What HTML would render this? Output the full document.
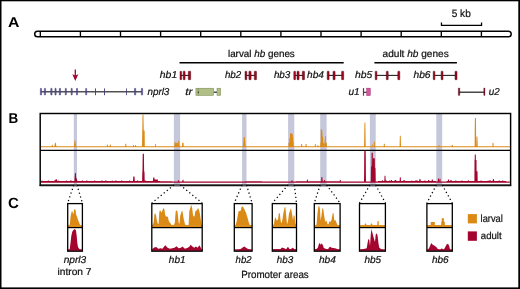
<!DOCTYPE html>
<html><head><meta charset="utf-8"><style>
html,body{margin:0;padding:0;background:#fff;}
svg{display:block;will-change:transform;}
text{font-family:"Liberation Sans",sans-serif;}
</style></head><body>
<svg width="520" height="289" viewBox="0 0 520 289">
<rect width="520" height="289" fill="#fff"/>
<rect x="0" y="0" width="520" height="1.3" fill="#000"/>
<rect x="0" y="0" width="1.5" height="289" fill="#000"/>
<rect x="518.3" y="0" width="1.7" height="289" fill="#000"/>
<rect x="0" y="287.4" width="520" height="1.6" fill="#000"/>
<text x="7.95" y="27" font-family="Liberation Sans, sans-serif" font-size="14.2" font-style="normal" font-weight="bold" fill="#000" textLength="11.42" lengthAdjust="spacingAndGlyphs" text-rendering="geometricPrecision">A</text>
<text x="8.48" y="123" font-family="Liberation Sans, sans-serif" font-size="14.2" font-style="normal" font-weight="bold" fill="#000" textLength="9.70" lengthAdjust="spacingAndGlyphs" text-rendering="geometricPrecision">B</text>
<text x="8.11" y="208" font-family="Liberation Sans, sans-serif" font-size="14.8" font-style="normal" font-weight="bold" fill="#000" textLength="10.87" lengthAdjust="spacingAndGlyphs" text-rendering="geometricPrecision">C</text>
<rect x="34.7" y="31.2" width="476.5" height="5.6" rx="2.8" ry="2.8" fill="#fff" stroke="#000" stroke-width="1.45"/>
<line x1="40.30" y1="31.2" x2="40.30" y2="36.8" stroke="#000" stroke-width="1.35"/>
<line x1="80.40" y1="31.2" x2="80.40" y2="36.8" stroke="#000" stroke-width="1.35"/>
<line x1="120.50" y1="31.2" x2="120.50" y2="36.8" stroke="#000" stroke-width="1.35"/>
<line x1="160.60" y1="31.2" x2="160.60" y2="36.8" stroke="#000" stroke-width="1.35"/>
<line x1="200.70" y1="31.2" x2="200.70" y2="36.8" stroke="#000" stroke-width="1.35"/>
<line x1="240.80" y1="31.2" x2="240.80" y2="36.8" stroke="#000" stroke-width="1.35"/>
<line x1="280.90" y1="31.2" x2="280.90" y2="36.8" stroke="#000" stroke-width="1.35"/>
<line x1="321.00" y1="31.2" x2="321.00" y2="36.8" stroke="#000" stroke-width="1.35"/>
<line x1="361.10" y1="31.2" x2="361.10" y2="36.8" stroke="#000" stroke-width="1.35"/>
<line x1="401.20" y1="31.2" x2="401.20" y2="36.8" stroke="#000" stroke-width="1.35"/>
<line x1="441.30" y1="31.2" x2="441.30" y2="36.8" stroke="#000" stroke-width="1.35"/>
<line x1="481.40" y1="31.2" x2="481.40" y2="36.8" stroke="#000" stroke-width="1.35"/>
<path d="M441.45 22.4 V25.3 H481.55 V22.4" fill="none" stroke="#000" stroke-width="1.25"/>
<text x="451.72" y="17" font-family="Liberation Sans, sans-serif" font-size="10.7" font-style="normal" font-weight="normal" fill="#111" stroke="#111" stroke-width="0.22" textLength="19.02" lengthAdjust="spacingAndGlyphs" text-rendering="geometricPrecision">5 kb</text>
<line x1="179.5" y1="62.7" x2="343.7" y2="62.7" stroke="#000" stroke-width="1.4"/>
<line x1="374.4" y1="62.7" x2="456.9" y2="62.7" stroke="#000" stroke-width="1.4"/>
<text x="227.94" y="57" font-family="Liberation Sans, sans-serif" font-size="10" font-style="normal" font-weight="normal" fill="#111" stroke="#111" stroke-width="0.22" textLength="66.87" lengthAdjust="spacingAndGlyphs" text-rendering="geometricPrecision">larval <tspan font-style="italic">hb</tspan> genes</text>
<text x="382.58" y="57" font-family="Liberation Sans, sans-serif" font-size="10" font-style="normal" font-weight="normal" fill="#111" stroke="#111" stroke-width="0.22" textLength="66.10" lengthAdjust="spacingAndGlyphs" text-rendering="geometricPrecision">adult <tspan font-style="italic">hb</tspan> genes</text>
<line x1="180.5" y1="75.4" x2="190.2" y2="75.4" stroke="#222" stroke-width="1.1"/>
<rect x="180.0" y="71.2" width="1.60" height="8.50" rx="0.5" fill="#a8041f" stroke="#3c0810" stroke-width="0.45"/>
<rect x="183.2" y="71.2" width="1.90" height="8.50" rx="0.5" fill="#a8041f" stroke="#3c0810" stroke-width="0.45"/>
<rect x="188.3" y="71.2" width="2.40" height="8.50" rx="0.5" fill="#a8041f" stroke="#3c0810" stroke-width="0.45"/>
<line x1="245.5" y1="75.4" x2="256.0" y2="75.4" stroke="#222" stroke-width="1.1"/>
<rect x="245.0" y="71.2" width="1.80" height="8.50" rx="0.5" fill="#a8041f" stroke="#3c0810" stroke-width="0.45"/>
<rect x="248.9" y="71.2" width="2.20" height="8.50" rx="0.5" fill="#a8041f" stroke="#3c0810" stroke-width="0.45"/>
<rect x="254.3" y="71.2" width="2.20" height="8.50" rx="0.5" fill="#a8041f" stroke="#3c0810" stroke-width="0.45"/>
<line x1="294.3" y1="75.4" x2="304.0" y2="75.4" stroke="#222" stroke-width="1.1"/>
<rect x="293.8" y="71.2" width="1.70" height="8.50" rx="0.5" fill="#a8041f" stroke="#3c0810" stroke-width="0.45"/>
<rect x="297.0" y="71.2" width="2.10" height="8.50" rx="0.5" fill="#a8041f" stroke="#3c0810" stroke-width="0.45"/>
<rect x="302.3" y="71.2" width="2.20" height="8.50" rx="0.5" fill="#a8041f" stroke="#3c0810" stroke-width="0.45"/>
<line x1="327.7" y1="75.4" x2="343.2" y2="75.4" stroke="#222" stroke-width="1.1"/>
<rect x="327.2" y="71.2" width="1.90" height="8.50" rx="0.5" fill="#a8041f" stroke="#3c0810" stroke-width="0.45"/>
<rect x="333.0" y="71.2" width="2.10" height="8.50" rx="0.5" fill="#a8041f" stroke="#3c0810" stroke-width="0.45"/>
<rect x="341.6" y="71.2" width="2.10" height="8.50" rx="0.5" fill="#a8041f" stroke="#3c0810" stroke-width="0.45"/>
<line x1="375.7" y1="75.4" x2="399.3" y2="75.4" stroke="#222" stroke-width="1.1"/>
<rect x="375.2" y="71.2" width="1.70" height="8.50" rx="0.5" fill="#a8041f" stroke="#3c0810" stroke-width="0.45"/>
<rect x="386.3" y="71.2" width="1.90" height="8.50" rx="0.5" fill="#a8041f" stroke="#3c0810" stroke-width="0.45"/>
<rect x="397.8" y="71.2" width="2.00" height="8.50" rx="0.5" fill="#a8041f" stroke="#3c0810" stroke-width="0.45"/>
<line x1="433.7" y1="75.4" x2="456.5" y2="75.4" stroke="#222" stroke-width="1.1"/>
<rect x="433.2" y="71.2" width="1.70" height="8.50" rx="0.5" fill="#a8041f" stroke="#3c0810" stroke-width="0.45"/>
<rect x="441.1" y="71.2" width="1.90" height="8.50" rx="0.5" fill="#a8041f" stroke="#3c0810" stroke-width="0.45"/>
<rect x="455.0" y="71.2" width="2.00" height="8.50" rx="0.5" fill="#a8041f" stroke="#3c0810" stroke-width="0.45"/>
<text x="159.87" y="78" font-family="Liberation Sans, sans-serif" font-size="10" font-style="italic" font-weight="normal" fill="#111" stroke="#111" stroke-width="0.22" textLength="17.30" lengthAdjust="spacingAndGlyphs" text-rendering="geometricPrecision">hb1</text>
<text x="224.95" y="78" font-family="Liberation Sans, sans-serif" font-size="10" font-style="italic" font-weight="normal" fill="#111" stroke="#111" stroke-width="0.22" textLength="16.31" lengthAdjust="spacingAndGlyphs" text-rendering="geometricPrecision">hb2</text>
<text x="273.90" y="78" font-family="Liberation Sans, sans-serif" font-size="10" font-style="italic" font-weight="normal" fill="#111" stroke="#111" stroke-width="0.22" textLength="16.42" lengthAdjust="spacingAndGlyphs" text-rendering="geometricPrecision">hb3</text>
<text x="307.12" y="78" font-family="Liberation Sans, sans-serif" font-size="10" font-style="italic" font-weight="normal" fill="#111" stroke="#111" stroke-width="0.22" textLength="16.86" lengthAdjust="spacingAndGlyphs" text-rendering="geometricPrecision">hb4</text>
<text x="354.96" y="78" font-family="Liberation Sans, sans-serif" font-size="10" font-style="italic" font-weight="normal" fill="#111" stroke="#111" stroke-width="0.22" textLength="17.31" lengthAdjust="spacingAndGlyphs" text-rendering="geometricPrecision">hb5</text>
<text x="413.48" y="78" font-family="Liberation Sans, sans-serif" font-size="10" font-style="italic" font-weight="normal" fill="#111" stroke="#111" stroke-width="0.22" textLength="17.11" lengthAdjust="spacingAndGlyphs" text-rendering="geometricPrecision">hb6</text>
<text x="147.44" y="95" font-family="Liberation Sans, sans-serif" font-size="10" font-style="italic" font-weight="normal" fill="#111" stroke="#111" stroke-width="0.22" textLength="21.89" lengthAdjust="spacingAndGlyphs" text-rendering="geometricPrecision">nprl3</text>
<text x="185.23" y="95" font-family="Liberation Sans, sans-serif" font-size="10" font-style="italic" font-weight="normal" fill="#111" stroke="#111" stroke-width="0.22" textLength="7.21" lengthAdjust="spacingAndGlyphs" text-rendering="geometricPrecision">tr</text>
<text x="348.55" y="95" font-family="Liberation Sans, sans-serif" font-size="10" font-style="italic" font-weight="normal" fill="#111" stroke="#111" stroke-width="0.22" textLength="11.14" lengthAdjust="spacingAndGlyphs" text-rendering="geometricPrecision">u1</text>
<text x="488.82" y="95" font-family="Liberation Sans, sans-serif" font-size="10" font-style="italic" font-weight="normal" fill="#111" stroke="#111" stroke-width="0.22" textLength="10.86" lengthAdjust="spacingAndGlyphs" text-rendering="geometricPrecision">u2</text>
<line x1="41" y1="91.8" x2="142" y2="91.8" stroke="#525252" stroke-width="1.6"/>
<rect x="40.35" y="88.3" width="1.20" height="6.8" rx="0.5" fill="#6458aa" stroke="#342e6a" stroke-width="0.45"/>
<rect x="44.35" y="88.3" width="1.20" height="6.8" rx="0.5" fill="#6458aa" stroke="#342e6a" stroke-width="0.45"/>
<rect x="50.75" y="88.3" width="1.30" height="6.8" rx="0.5" fill="#6458aa" stroke="#342e6a" stroke-width="0.45"/>
<rect x="54.95" y="88.3" width="1.20" height="6.8" rx="0.5" fill="#6458aa" stroke="#342e6a" stroke-width="0.45"/>
<rect x="59.25" y="88.3" width="1.30" height="6.8" rx="0.5" fill="#6458aa" stroke="#342e6a" stroke-width="0.45"/>
<rect x="65.25" y="88.3" width="1.10" height="6.8" rx="0.5" fill="#6458aa" stroke="#342e6a" stroke-width="0.45"/>
<rect x="71.15" y="88.3" width="1.10" height="6.8" rx="0.5" fill="#6458aa" stroke="#342e6a" stroke-width="0.45"/>
<rect x="76.45" y="88.3" width="1.10" height="6.8" rx="0.5" fill="#6458aa" stroke="#342e6a" stroke-width="0.45"/>
<rect x="85.65" y="88.3" width="1.00" height="6.8" rx="0.5" fill="#6458aa" stroke="#342e6a" stroke-width="0.45"/>
<rect x="95.10" y="88.1" width="0.90" height="7.2" rx="0.4" fill="#3f3b72"/>
<rect x="104.00" y="88.1" width="0.90" height="7.2" rx="0.4" fill="#3f3b72"/>
<rect x="126.10" y="88.1" width="0.80" height="7.2" rx="0.4" fill="#3f3b72"/>
<rect x="134.45" y="88.3" width="1.30" height="6.8" rx="0.5" fill="#6458aa" stroke="#342e6a" stroke-width="0.45"/>
<rect x="141.35" y="88.3" width="1.30" height="6.8" rx="0.5" fill="#6458aa" stroke="#342e6a" stroke-width="0.45"/>
<line x1="75.3" y1="69.6" x2="75.3" y2="76" stroke="#A3052E" stroke-width="1.3"/>
<path d="M72.3 74.2 L75.3 80.9 L78.3 74.2 L75.3 75.6 Z" fill="#A3052E"/>
<line x1="213.6" y1="92.2" x2="217" y2="92.2" stroke="#222" stroke-width="1.2"/>
<rect x="195.9" y="88.2" width="17.7" height="7.2" fill="#afbf86" stroke="#74824f" stroke-width="0.5"/>
<line x1="198.3" y1="88.2" x2="198.3" y2="95.4" stroke="#74824f" stroke-width="0.6"/>
<circle cx="198.3" cy="92.2" r="0.6" fill="#111"/>
<rect x="217" y="88.2" width="3.7" height="7.2" fill="#afbf86" stroke="#74824f" stroke-width="0.5"/>
<line x1="363.5" y1="92.3" x2="366.8" y2="92.3" stroke="#222" stroke-width="1.1"/>
<rect x="362.9" y="88.1" width="1.2" height="7.6" fill="#82245c"/>
<rect x="366.6" y="88.1" width="3.8" height="7.6" fill="#d653a2" stroke="#82245c" stroke-width="0.35"/>
<line x1="459" y1="92.2" x2="484.3" y2="92.2" stroke="#1a1a1a" stroke-width="1.2"/>
<rect x="458.3" y="87.9" width="1.5" height="7.6" rx="0.4" fill="#7e0c26" stroke="#3c0810" stroke-width="0.3"/>
<rect x="483.75" y="87.9" width="1.2" height="7.6" rx="0.4" fill="#7e0c26" stroke="#3c0810" stroke-width="0.3"/>
<rect x="73.8" y="113.5" width="3.20" height="72.90" fill="#c5c7db"/>
<rect x="173.9" y="113.5" width="6.20" height="72.90" fill="#c5c7db"/>
<rect x="242.1" y="113.5" width="4.40" height="72.90" fill="#c5c7db"/>
<rect x="288.1" y="113.5" width="6.20" height="72.90" fill="#c5c7db"/>
<rect x="320.2" y="113.5" width="6.40" height="72.90" fill="#c5c7db"/>
<rect x="369.9" y="113.5" width="5.80" height="72.90" fill="#c5c7db"/>
<rect x="436.3" y="113.5" width="5.90" height="72.90" fill="#c5c7db"/>
<path d="M41.00 147.25 L41.00 146.20 L51.60 146.20 L51.70 146.00 L51.80 145.60 L51.90 145.20 L52.00 144.80 L52.60 144.80 L52.70 145.20 L52.80 145.60 L52.90 146.00 L53.00 146.20 L54.40 146.20 L54.50 145.68 L54.60 145.15 L54.70 144.63 L54.80 144.11 L54.90 143.58 L55.00 143.06 L55.10 142.80 L55.70 142.80 L55.80 143.06 L55.90 143.58 L56.00 144.11 L56.10 144.63 L56.20 145.15 L56.30 145.68 L56.40 146.20 L74.00 146.20 L74.10 145.25 L74.20 144.30 L74.30 143.35 L74.40 142.40 L74.50 141.45 L74.60 140.50 L75.40 140.50 L75.50 141.45 L75.60 142.40 L75.70 143.35 L75.80 144.30 L75.90 145.25 L76.00 146.20 L106.70 146.20 L106.80 145.80 L106.90 145.40 L107.00 145.00 L107.10 144.60 L107.70 144.60 L107.80 145.00 L107.90 145.40 L108.00 145.80 L108.10 146.20 L109.50 146.20 L109.60 145.88 L109.70 145.56 L109.80 145.24 L109.90 144.92 L110.00 144.60 L110.60 144.60 L110.70 144.92 L110.80 145.24 L110.90 145.56 L111.00 145.88 L111.10 146.20 L125.20 146.20 L125.30 144.60 L125.40 143.80 L126.20 143.80 L126.30 144.60 L126.40 146.20 L133.00 146.20 L133.10 145.00 L133.90 145.00 L134.00 146.20 L134.90 146.20 L135.00 145.00 L135.80 145.00 L135.90 146.20 L142.00 146.20 L142.10 140.42 L142.20 134.64 L142.30 128.85 L142.40 123.07 L142.50 117.29 L142.60 114.40 L143.40 114.40 L143.50 117.29 L143.60 123.07 L143.70 128.85 L143.80 130.40 L144.60 130.40 L144.70 135.67 L144.80 146.20 L154.90 146.20 L155.00 144.00 L155.80 144.00 L155.90 146.20 L174.30 146.20 L174.40 144.52 L174.50 142.84 L174.60 142.00 L175.40 142.00 L175.50 142.84 L175.60 144.52 L175.70 144.07 L175.80 143.00 L176.60 143.00 L176.70 144.07 L176.80 143.32 L176.90 142.60 L177.70 142.60 L177.80 143.32 L177.90 144.76 L178.00 146.20 L178.10 144.66 L178.20 143.11 L178.30 141.57 L178.40 140.80 L179.20 140.80 L179.30 141.57 L179.40 143.11 L179.50 144.66 L179.60 146.20 L182.00 146.20 L182.10 144.50 L182.20 142.80 L183.50 142.80 L183.60 144.50 L183.70 146.20 L243.00 146.20 L243.10 145.11 L243.20 144.01 L243.30 142.92 L243.40 141.82 L243.50 140.73 L243.60 139.64 L243.70 138.54 L243.80 137.45 L243.90 136.90 L244.70 136.90 L244.80 137.45 L244.90 138.54 L245.00 139.64 L245.10 140.73 L245.20 141.82 L245.30 142.92 L245.40 144.01 L245.50 145.11 L245.60 146.20 L288.40 146.20 L288.50 142.70 L289.30 142.70 L289.40 138.30 L290.00 138.30 L290.10 133.40 L290.70 133.40 L290.80 133.00 L291.60 133.00 L291.70 133.80 L292.30 133.80 L292.40 134.30 L292.70 134.30 L292.80 137.40 L293.10 137.40 L293.20 141.80 L293.60 141.80 L293.70 146.20 L301.10 146.20 L301.20 144.73 L301.30 144.00 L302.10 144.00 L302.20 144.73 L302.30 146.20 L305.50 146.20 L305.60 144.73 L305.70 144.00 L306.50 144.00 L306.60 144.73 L306.70 146.20 L314.80 146.20 L314.90 144.00 L315.70 144.00 L315.80 146.20 L317.50 146.20 L317.60 145.00 L318.30 145.00 L318.40 146.20 L320.20 146.20 L320.30 142.70 L320.70 142.70 L320.80 129.00 L321.50 129.00 L321.60 130.30 L322.20 130.30 L322.30 132.50 L322.40 132.50 L322.50 136.50 L323.00 136.50 L323.10 142.70 L323.70 142.70 L323.80 143.60 L324.30 143.60 L324.40 146.20 L324.50 146.20 L324.60 139.60 L324.90 139.60 L325.00 136.10 L325.70 136.10 L325.80 142.70 L326.30 142.70 L326.40 143.00 L326.80 143.00 L326.90 146.20 L364.10 146.20 L364.20 139.43 L364.30 132.66 L364.40 125.89 L364.50 122.50 L365.30 122.50 L365.40 125.89 L365.50 132.66 L365.60 139.43 L365.70 146.20 L371.80 146.20 L371.90 144.50 L372.70 144.50 L372.80 146.20 L373.70 146.20 L373.80 143.07 L373.90 141.50 L374.70 141.50 L374.80 143.07 L374.90 146.20 L383.70 146.20 L383.80 144.60 L383.90 143.80 L384.70 143.80 L384.80 144.60 L384.90 146.20 L399.60 146.20 L399.70 142.04 L399.80 137.88 L399.90 135.80 L400.70 135.80 L400.80 137.88 L400.90 142.04 L401.00 146.20 L438.20 146.20 L438.30 145.95 L438.40 145.70 L438.50 145.45 L438.60 145.20 L439.40 145.20 L439.50 145.45 L439.60 145.70 L439.70 145.95 L439.80 146.20 L451.50 146.20 L451.60 145.90 L451.70 145.60 L451.80 145.30 L451.90 145.00 L452.70 145.00 L452.80 145.30 L452.90 145.60 L453.00 145.90 L453.10 146.20 L474.60 146.20 L474.70 134.96 L474.80 123.72 L474.90 118.10 L475.90 118.10 L476.00 123.72 L476.10 134.96 L476.20 146.20 L476.30 146.20 L476.40 142.28 L476.50 138.36 L476.60 136.40 L477.40 136.40 L477.50 138.36 L477.60 142.28 L477.70 146.20 L492.40 146.20 L492.50 143.93 L492.60 142.80 L493.40 142.80 L493.50 143.93 L493.60 146.20 L509.80 146.20 L509.80 147.25 Z" fill="#DB8A16"/>
<path d="M41.00 182.70 L41.00 181.00 L41.40 181.00 L41.50 180.90 L41.60 180.70 L41.70 180.50 L41.80 180.40 L42.20 180.40 L42.30 180.50 L42.40 180.70 L42.50 180.90 L42.60 181.00 L47.60 181.00 L47.70 180.92 L47.80 180.71 L47.90 180.50 L48.00 180.35 L48.40 180.35 L48.50 180.41 L48.60 180.62 L48.70 180.83 L48.80 181.00 L54.10 181.00 L54.20 180.91 L54.30 180.68 L54.40 180.46 L54.50 180.25 L54.90 180.25 L55.00 180.27 L55.10 180.50 L55.20 180.40 L55.30 180.19 L55.40 179.97 L55.50 179.75 L55.60 179.53 L55.70 179.31 L55.80 179.20 L56.60 179.20 L56.70 179.31 L56.80 179.53 L56.90 179.75 L57.00 179.97 L57.10 180.19 L57.20 180.40 L57.30 180.62 L57.40 180.84 L57.50 181.00 L58.00 181.00 L58.10 180.89 L58.20 180.71 L58.30 180.53 L58.40 180.49 L58.80 180.49 L58.90 180.64 L59.00 180.83 L59.10 181.00 L65.70 181.00 L65.80 180.81 L65.90 180.61 L66.00 180.41 L66.10 180.40 L66.50 180.40 L66.60 180.59 L66.70 180.79 L66.80 180.99 L66.90 181.00 L70.30 181.00 L70.40 180.81 L70.50 180.55 L70.60 180.30 L70.70 180.10 L71.10 180.10 L71.20 180.16 L71.30 180.41 L71.40 180.67 L71.50 180.92 L71.60 181.00 L74.40 181.00 L74.50 179.94 L74.60 178.37 L74.70 176.81 L74.80 175.25 L74.90 173.68 L75.00 172.90 L75.80 172.90 L75.90 173.68 L76.00 175.25 L76.10 176.81 L76.20 178.37 L76.30 178.50 L76.80 178.50 L76.90 179.00 L77.00 180.00 L77.10 180.34 L77.20 180.58 L77.30 180.82 L77.40 181.00 L82.00 181.00 L82.10 180.95 L82.20 180.72 L82.30 180.50 L82.40 180.27 L82.50 180.24 L82.90 180.24 L83.00 180.45 L83.10 180.68 L83.20 180.91 L83.30 181.00 L86.30 181.00 L86.40 180.85 L86.50 180.62 L86.60 180.39 L86.70 180.25 L87.10 180.25 L87.20 180.33 L87.30 180.56 L87.40 180.79 L87.50 181.00 L94.10 181.00 L94.20 180.96 L94.30 180.74 L94.40 180.52 L94.50 180.30 L94.60 180.29 L95.00 180.29 L95.10 180.50 L95.20 180.72 L95.30 180.94 L95.40 181.00 L101.30 181.00 L101.40 180.95 L101.50 180.72 L101.60 180.49 L101.70 180.25 L101.80 180.23 L102.20 180.23 L102.30 180.44 L102.40 180.67 L102.50 180.90 L102.60 181.00 L105.10 181.00 L105.20 180.98 L105.30 180.74 L105.40 180.51 L105.50 180.27 L105.60 180.20 L106.00 180.20 L106.10 180.36 L106.20 180.60 L106.30 180.84 L106.40 181.00 L111.60 181.00 L111.70 180.96 L111.80 180.76 L111.90 180.55 L112.00 180.38 L112.40 180.38 L112.50 180.41 L112.60 180.61 L112.70 180.82 L112.80 181.00 L115.20 181.00 L115.30 180.99 L115.40 180.74 L115.50 180.50 L115.60 180.25 L115.70 180.15 L116.10 180.15 L116.20 180.30 L116.30 180.54 L116.40 180.79 L116.50 181.00 L121.10 181.00 L121.20 180.93 L121.30 180.69 L121.40 180.46 L121.50 180.22 L121.60 180.21 L122.00 180.21 L122.10 180.44 L122.20 180.67 L122.30 180.90 L122.40 181.00 L129.00 181.00 L129.10 180.91 L129.20 180.68 L129.30 180.44 L129.40 180.21 L129.80 180.21 L129.90 180.22 L130.00 180.45 L130.10 180.69 L130.20 180.92 L130.30 181.00 L132.90 181.00 L133.00 180.77 L133.10 179.31 L133.20 177.86 L133.30 176.40 L134.50 176.40 L134.60 177.86 L134.70 179.31 L134.80 180.77 L134.90 181.00 L137.10 181.00 L137.20 180.98 L137.30 180.77 L137.40 180.56 L137.50 180.35 L137.60 180.34 L138.00 180.34 L138.10 180.54 L138.20 180.75 L138.30 180.97 L138.40 181.00 L142.10 181.00 L142.20 176.65 L142.30 171.80 L142.40 171.80 L142.50 169.59 L142.60 161.64 L142.70 153.70 L143.90 153.70 L144.00 161.64 L144.10 169.59 L144.20 171.80 L144.50 171.80 L144.60 176.65 L144.70 180.98 L144.80 180.77 L144.90 180.55 L145.00 180.34 L145.10 180.32 L145.50 180.32 L145.60 180.52 L145.70 180.73 L145.80 180.95 L145.90 181.00 L152.80 181.00 L152.90 180.85 L153.00 179.83 L153.10 178.71 L153.20 177.60 L154.40 177.60 L154.50 178.71 L154.60 179.60 L157.70 179.60 L157.80 179.79 L157.90 180.17 L158.00 180.55 L158.10 180.93 L158.20 181.00 L160.00 181.00 L160.10 181.17 L160.20 181.20 L172.00 181.20 L172.10 181.30 L172.20 181.40 L172.30 181.50 L177.80 181.50 L177.90 181.02 L178.00 180.54 L178.10 180.30 L178.90 180.30 L179.00 180.54 L179.10 181.02 L179.20 181.50 L182.30 181.50 L182.40 180.82 L182.50 180.14 L182.60 179.80 L183.40 179.80 L183.50 180.14 L183.60 180.82 L183.70 181.50 L244.70 181.50 L244.80 181.43 L244.90 181.37 L245.00 181.30 L262.00 181.30 L262.10 181.37 L262.20 181.43 L262.30 181.50 L291.30 181.50 L291.40 181.06 L291.50 180.62 L291.60 180.40 L292.40 180.40 L292.50 180.62 L292.60 181.06 L292.70 181.50 L295.70 181.50 L295.80 181.40 L295.90 181.30 L296.00 181.20 L306.80 181.20 L306.90 180.17 L307.00 179.50 L307.80 179.50 L307.90 180.17 L308.00 181.20 L321.10 181.20 L321.20 180.19 L321.30 178.87 L321.40 177.56 L321.50 176.90 L322.30 176.90 L322.40 177.56 L322.50 178.87 L322.60 180.19 L322.70 181.20 L324.00 181.20 L324.10 180.43 L324.20 179.90 L325.00 179.90 L325.10 180.43 L325.20 181.20 L339.70 181.20 L339.80 180.50 L339.90 180.00 L340.70 180.00 L340.80 180.50 L340.90 181.50 L364.00 181.50 L364.10 173.87 L364.20 158.62 L364.30 151.00 L365.70 151.00 L365.80 158.63 L365.90 173.88 L366.00 181.50 L370.80 181.50 L370.90 174.05 L371.00 166.60 L371.50 166.60 L371.60 152.80 L372.80 152.80 L372.90 166.03 L373.00 158.30 L374.80 158.30 L374.90 166.03 L375.00 168.00 L375.40 168.00 L375.50 170.70 L375.60 176.10 L375.70 181.50 L377.70 181.50 L377.80 181.33 L377.90 181.17 L378.00 181.00 L381.70 181.00 L381.80 180.96 L381.90 180.71 L382.00 180.47 L382.10 180.22 L382.20 180.15 L382.60 180.15 L382.70 180.33 L382.80 180.57 L382.90 180.82 L383.00 181.00 L384.30 181.00 L384.40 179.18 L384.50 176.86 L384.60 175.70 L385.40 175.70 L385.50 176.86 L385.60 179.18 L385.70 180.59 L385.80 180.37 L385.90 180.25 L386.30 180.25 L386.40 180.37 L386.50 180.60 L386.60 180.82 L386.70 181.00 L389.20 181.00 L389.30 180.85 L389.40 180.62 L389.50 180.39 L389.60 180.21 L390.00 180.21 L390.10 180.27 L390.20 180.51 L390.30 180.74 L390.40 180.98 L390.50 181.00 L390.90 181.00 L391.00 180.50 L391.10 180.00 L391.90 180.00 L392.00 180.50 L392.10 181.00 L394.30 181.00 L394.40 180.96 L394.50 180.71 L394.60 180.46 L394.70 180.22 L394.80 180.15 L395.20 180.15 L395.30 180.00 L396.10 180.00 L396.20 180.25 L396.30 180.75 L396.40 181.00 L399.60 181.00 L399.70 179.78 L399.80 178.06 L399.90 177.20 L400.70 177.20 L400.80 178.06 L400.90 179.78 L401.00 181.00 L402.80 181.00 L402.90 180.80 L403.00 180.59 L403.10 180.37 L403.20 180.30 L403.60 180.30 L403.70 180.45 L403.80 180.67 L403.90 180.88 L404.00 181.00 L404.10 180.70 L404.20 180.30 L405.00 180.30 L405.10 180.70 L405.20 181.00 L411.30 181.00 L411.40 180.83 L411.50 180.63 L411.60 180.43 L411.70 180.38 L412.10 180.38 L412.20 180.53 L412.30 180.73 L412.40 180.94 L412.50 181.00 L415.10 181.00 L415.20 180.96 L415.30 180.73 L415.40 180.51 L415.50 180.28 L415.60 180.26 L416.00 180.26 L416.10 180.46 L416.20 180.69 L416.30 180.92 L416.40 180.76 L416.50 180.39 L416.60 180.20 L417.40 180.20 L417.50 180.39 L417.60 180.76 L417.70 181.00 L418.80 181.00 L418.90 180.94 L419.00 180.75 L419.10 180.55 L419.20 180.42 L419.30 180.42 L419.40 180.07 L419.50 179.36 L419.60 179.00 L420.40 179.00 L420.50 179.36 L420.60 180.07 L420.70 180.79 L420.80 181.00 L424.30 181.00 L424.40 180.95 L424.50 180.72 L424.60 180.50 L424.70 180.27 L424.80 180.26 L425.20 180.26 L425.30 180.47 L425.40 180.70 L425.50 180.92 L425.60 181.00 L427.90 181.00 L428.00 180.57 L428.10 180.10 L428.90 180.10 L429.00 180.48 L429.40 180.48 L429.50 180.51 L429.60 180.69 L429.70 180.88 L429.80 181.00 L431.50 181.00 L431.60 180.93 L431.70 180.36 L431.80 179.79 L431.90 179.50 L432.70 179.50 L432.80 179.79 L432.90 180.36 L433.00 180.93 L433.10 181.00 L436.00 181.00 L436.10 181.17 L436.20 181.33 L436.30 181.50 L437.70 181.50 L437.80 180.64 L437.90 179.79 L438.00 178.93 L438.10 178.50 L438.90 178.50 L439.00 178.93 L439.10 179.79 L439.20 180.64 L439.30 181.50 L439.40 181.50 L439.50 179.70 L439.60 178.80 L440.40 178.80 L440.50 179.70 L440.60 181.50 L446.70 181.50 L446.80 181.33 L446.90 181.17 L447.00 181.00 L447.80 181.00 L447.90 180.70 L448.00 179.90 L448.10 179.50 L448.90 179.50 L449.00 179.90 L449.10 180.70 L449.20 181.00 L449.80 181.00 L449.90 180.85 L450.00 180.61 L450.10 180.36 L450.20 180.14 L450.60 180.14 L450.70 180.17 L450.80 180.42 L450.90 180.66 L451.00 180.62 L451.10 180.40 L451.90 180.40 L452.00 180.62 L452.10 181.00 L455.20 181.00 L455.30 180.91 L455.40 180.70 L455.50 180.48 L455.60 180.32 L456.00 180.32 L456.10 180.37 L456.20 180.58 L456.30 180.80 L456.40 181.00 L461.30 181.00 L461.40 180.88 L461.50 180.65 L461.60 180.42 L461.70 180.24 L462.10 180.24 L462.20 180.29 L462.30 180.52 L462.40 180.75 L462.50 180.98 L462.60 181.00 L467.80 181.00 L467.90 180.85 L468.00 180.62 L468.10 180.40 L468.20 180.28 L468.60 180.28 L468.70 180.37 L468.80 180.60 L468.90 180.82 L469.00 181.00 L474.40 181.00 L474.50 160.00 L474.70 160.00 L474.80 154.50 L475.80 154.50 L475.90 160.00 L476.50 160.00 L476.60 171.20 L477.50 171.20 L477.60 176.35 L477.70 181.00 L480.40 181.00 L480.50 180.95 L480.60 180.74 L480.70 180.52 L480.80 180.33 L481.20 180.33 L481.30 180.35 L481.40 180.56 L481.50 180.77 L481.60 180.99 L481.70 181.00 L487.50 181.00 L487.60 180.99 L487.70 180.79 L487.80 180.59 L487.90 180.40 L488.30 180.40 L488.40 180.42 L488.50 180.62 L488.60 180.82 L488.70 181.00 L489.30 181.00 L489.40 180.90 L489.50 180.30 L489.60 180.00 L490.40 180.00 L490.50 180.30 L490.60 180.90 L490.70 181.00 L492.50 181.00 L492.60 180.86 L492.70 180.61 L492.80 180.07 L492.90 179.36 L493.00 179.00 L493.80 179.00 L493.90 179.36 L494.00 180.07 L494.10 180.79 L494.20 181.00 L498.60 181.00 L498.70 180.95 L498.80 180.73 L498.90 180.51 L499.00 180.29 L499.10 180.28 L499.50 180.28 L499.60 180.49 L499.70 180.71 L499.80 180.94 L499.90 181.00 L502.20 181.00 L502.30 180.89 L502.40 180.68 L502.50 180.46 L502.60 180.33 L503.00 180.33 L503.10 180.42 L503.20 180.63 L503.30 180.84 L503.40 181.00 L506.00 181.00 L506.10 181.17 L506.20 181.33 L506.30 181.50 L509.80 181.50 L509.80 182.70 Z" fill="#A3052E"/>
<rect x="40.2" y="113.5" width="470.40" height="71.70" fill="none" stroke="#000" stroke-width="1.45"/>
<line x1="40.2" y1="150.4" x2="510.6" y2="150.4" stroke="#000" stroke-width="1.1"/>
<line x1="39.550000000000004" y1="185.4" x2="511.25" y2="185.4" stroke="#151515" stroke-width="1.5"/>
<rect x="73.8" y="184.5" width="3.20" height="1.6" fill="#c5c7db" opacity="0.35"/>
<rect x="173.9" y="184.5" width="6.20" height="1.6" fill="#c5c7db" opacity="0.35"/>
<rect x="242.1" y="184.5" width="4.40" height="1.6" fill="#c5c7db" opacity="0.35"/>
<rect x="288.1" y="184.5" width="6.20" height="1.6" fill="#c5c7db" opacity="0.35"/>
<rect x="320.2" y="184.5" width="6.40" height="1.6" fill="#c5c7db" opacity="0.35"/>
<rect x="369.9" y="184.5" width="5.80" height="1.6" fill="#c5c7db" opacity="0.35"/>
<rect x="436.3" y="184.5" width="5.90" height="1.6" fill="#c5c7db" opacity="0.35"/>
<line x1="73.8" y1="185.0" x2="67.7" y2="203.0" stroke="#000" stroke-width="1.25" stroke-dasharray="1.25 2.7" stroke-dashoffset="0" stroke-linecap="butt"/>
<line x1="77.0" y1="185.0" x2="82.4" y2="203.0" stroke="#000" stroke-width="1.25" stroke-dasharray="1.25 2.7" stroke-dashoffset="0" stroke-linecap="butt"/>
<line x1="173.9" y1="185.0" x2="151.8" y2="203.0" stroke="#000" stroke-width="1.25" stroke-dasharray="1.25 2.7" stroke-dashoffset="0" stroke-linecap="butt"/>
<line x1="180.1" y1="185.0" x2="202.2" y2="203.0" stroke="#000" stroke-width="1.25" stroke-dasharray="1.25 2.7" stroke-dashoffset="0" stroke-linecap="butt"/>
<line x1="242.1" y1="185.0" x2="234.3" y2="203.0" stroke="#000" stroke-width="1.25" stroke-dasharray="1.25 2.7" stroke-dashoffset="0" stroke-linecap="butt"/>
<line x1="246.5" y1="185.0" x2="252.1" y2="203.0" stroke="#000" stroke-width="1.25" stroke-dasharray="1.25 2.7" stroke-dashoffset="0" stroke-linecap="butt"/>
<line x1="288.1" y1="185.0" x2="272.3" y2="203.0" stroke="#000" stroke-width="1.25" stroke-dasharray="1.25 2.7" stroke-dashoffset="0" stroke-linecap="butt"/>
<line x1="294.3" y1="185.0" x2="296.5" y2="203.0" stroke="#000" stroke-width="1.25" stroke-dasharray="1.25 2.7" stroke-dashoffset="0" stroke-linecap="butt"/>
<line x1="320.2" y1="185.0" x2="314.3" y2="203.0" stroke="#000" stroke-width="1.25" stroke-dasharray="1.25 2.7" stroke-dashoffset="0" stroke-linecap="butt"/>
<line x1="326.6" y1="185.0" x2="340.1" y2="203.0" stroke="#000" stroke-width="1.25" stroke-dasharray="1.25 2.7" stroke-dashoffset="0" stroke-linecap="butt"/>
<line x1="369.9" y1="185.0" x2="359.5" y2="203.0" stroke="#000" stroke-width="1.25" stroke-dasharray="1.25 2.7" stroke-dashoffset="0" stroke-linecap="butt"/>
<line x1="375.7" y1="185.0" x2="385.4" y2="203.0" stroke="#000" stroke-width="1.25" stroke-dasharray="1.25 2.7" stroke-dashoffset="0" stroke-linecap="butt"/>
<line x1="436.3" y1="185.0" x2="426.9" y2="203.0" stroke="#000" stroke-width="1.25" stroke-dasharray="1.25 2.7" stroke-dashoffset="0" stroke-linecap="butt"/>
<line x1="442.2" y1="185.0" x2="452.3" y2="203.0" stroke="#000" stroke-width="1.25" stroke-dasharray="1.25 2.7" stroke-dashoffset="0" stroke-linecap="butt"/>
<rect x="67.7" y="225.1" width="14.70" height="1.9" fill="#DB8A16"/>
<rect x="67.7" y="249.3" width="14.70" height="1.6" fill="#A3052E"/>
<path d="M69.60 225.50 L69.60 225.00 L70.00 222.50 L70.60 216.50 L71.30 213.00 L71.60 211.40 L72.60 211.40 L73.00 213.70 L73.60 213.70 L74.00 209.60 L75.50 209.60 L75.80 212.00 L76.10 214.60 L77.00 216.80 L77.90 219.50 L78.80 221.70 L79.70 224.00 L80.20 225.00 L80.20 225.50" fill="#DB8A16"/>
<path d="M69.60 250.30 L69.60 250.00 L70.50 243.00 L71.30 236.00 L72.20 232.00 L73.00 230.50 L73.50 230.00 L74.30 229.60 L74.80 228.80 L75.30 229.40 L76.00 230.50 L76.70 236.00 L77.30 243.00 L78.00 247.00 L79.00 248.50 L80.00 249.80 L80.30 250.00 L80.30 250.30" fill="#A3052E"/>
<rect x="151.8" y="225.1" width="50.40" height="1.9" fill="#DB8A16"/>
<rect x="151.8" y="249.3" width="50.40" height="1.6" fill="#A3052E"/>
<path d="M152.50 225.50 L152.50 225.00 L153.60 222.70 L154.50 213.70 L155.20 213.30 L156.10 215.50 L156.80 220.00 L157.70 223.60 L158.60 224.00 L159.30 211.90 L159.90 210.60 L160.80 211.00 L161.50 212.80 L162.40 210.60 L163.50 207.90 L164.40 209.20 L165.10 214.60 L166.00 216.40 L167.10 216.40 L168.00 216.90 L168.50 220.00 L169.40 222.30 L170.70 223.60 L171.60 225.00 L173.90 225.00 L174.80 222.70 L175.70 211.00 L176.60 210.60 L177.40 211.00 L177.80 214.60 L178.70 222.70 L179.40 224.00 L180.30 215.50 L181.40 211.90 L182.30 210.60 L183.00 214.60 L183.90 220.00 L184.80 223.60 L185.50 225.00 L188.60 225.00 L189.30 211.00 L190.40 207.40 L191.30 204.70 L192.20 208.30 L193.10 216.00 L194.50 216.40 L195.40 211.00 L196.70 210.60 L198.10 207.90 L199.00 210.10 L199.90 213.70 L200.80 220.00 L201.40 223.60 L201.60 225.00 L201.60 225.50" fill="#DB8A16"/>
<path d="M152.40 250.30 L152.40 250.00 L152.60 248.80 L154.30 247.50 L156.10 247.00 L158.40 248.80 L160.70 248.20 L162.40 248.80 L164.20 246.50 L165.30 245.30 L167.60 247.70 L169.90 248.80 L172.20 248.20 L174.50 247.70 L176.60 246.20 L178.60 248.20 L180.90 247.70 L182.40 246.50 L184.90 248.80 L187.80 247.70 L189.50 246.50 L190.70 244.80 L192.40 246.50 L194.20 247.70 L195.90 246.50 L197.60 247.70 L199.30 245.30 L201.10 248.20 L201.60 250.00 L201.60 250.30" fill="#A3052E"/>
<rect x="234.3" y="225.1" width="17.80" height="1.9" fill="#DB8A16"/>
<rect x="234.3" y="249.3" width="17.80" height="1.6" fill="#A3052E"/>
<path d="M235.50 225.50 L235.50 225.50 L236.70 221.30 L237.60 216.30 L238.20 213.00 L238.80 210.90 L240.50 210.90 L241.10 209.20 L241.50 206.80 L243.00 206.50 L243.60 208.00 L244.50 209.20 L245.20 211.30 L246.20 213.00 L246.80 215.40 L247.50 217.50 L248.30 220.80 L249.20 223.70 L250.20 225.50 L250.20 225.50" fill="#DB8A16"/>
<path d="M238.50 250.30 L238.50 250.00 L241.00 248.80 L243.00 247.20 L244.40 246.60 L246.00 247.80 L248.50 249.20 L251.00 250.00 L251.00 250.30" fill="#A3052E"/>
<rect x="272.3" y="225.1" width="24.20" height="1.9" fill="#DB8A16"/>
<rect x="272.3" y="249.3" width="24.20" height="1.6" fill="#A3052E"/>
<path d="M273.00 225.50 L273.00 225.00 L273.90 224.20 L275.00 217.50 L275.80 218.00 L276.80 220.40 L278.00 219.40 L278.80 213.60 L279.80 213.10 L280.70 221.30 L281.60 223.30 L282.60 218.40 L283.50 212.60 L284.50 207.80 L285.30 206.80 L286.00 213.60 L287.00 224.20 L288.00 221.30 L289.00 213.60 L290.30 209.70 L291.00 208.30 L292.00 213.60 L293.00 220.40 L293.60 215.50 L294.50 215.50 L295.30 223.30 L296.00 225.00 L296.00 225.50" fill="#DB8A16"/>
<path d="M273.00 250.30 L273.00 250.00 L273.20 249.30 L280.30 249.30 L281.20 248.20 L282.00 247.50 L283.20 248.00 L284.50 248.30 L285.50 249.30 L286.40 249.00 L287.30 247.50 L287.90 246.90 L288.60 247.60 L289.40 249.00 L291.00 249.20 L291.80 248.30 L292.80 247.70 L293.50 248.20 L294.20 249.30 L295.80 249.30 L296.00 250.00 L296.00 250.30" fill="#A3052E"/>
<rect x="314.3" y="225.1" width="25.80" height="1.9" fill="#DB8A16"/>
<rect x="314.3" y="249.3" width="25.80" height="1.6" fill="#A3052E"/>
<path d="M316.30 225.50 L316.30 225.00 L316.60 224.00 L317.50 213.60 L318.30 206.80 L319.20 205.80 L320.00 209.70 L320.60 220.40 L321.50 215.50 L322.30 208.30 L323.20 208.80 L324.00 214.60 L324.80 219.40 L325.60 221.90 L326.50 220.40 L327.50 224.30 L328.50 224.30 L329.50 220.90 L330.50 221.90 L331.50 219.90 L332.80 213.10 L333.50 213.10 L334.30 220.40 L335.30 219.90 L336.50 222.80 L337.50 225.00 L337.50 225.50" fill="#DB8A16"/>
<path d="M315.00 250.30 L315.00 250.00 L315.00 249.30 L316.90 248.80 L318.00 247.20 L319.00 243.50 L320.00 243.20 L320.80 244.90 L321.40 243.50 L322.20 243.90 L323.00 245.50 L323.80 248.10 L325.00 248.60 L327.00 249.30 L328.00 249.50 L329.00 247.60 L329.50 247.20 L330.30 246.80 L331.50 247.80 L333.50 248.10 L336.00 248.50 L337.50 249.30 L339.30 249.80 L339.50 250.00 L339.50 250.30" fill="#A3052E"/>
<rect x="359.5" y="225.1" width="25.90" height="1.9" fill="#DB8A16"/>
<rect x="359.5" y="249.3" width="25.90" height="1.6" fill="#A3052E"/>
<path d="M364.50 225.50 L364.50 225.00 L365.00 223.60 L366.00 223.60 L366.50 225.00 L370.50 225.00 L371.00 223.40 L372.00 223.40 L372.50 225.00 L377.30 225.00 L377.50 221.00 L378.60 221.00 L378.90 225.00 L378.90 225.50" fill="#DB8A16"/>
<path d="M360.50 250.30 L360.50 250.00 L361.00 249.60 L364.80 248.80 L366.70 248.30 L367.50 243.40 L368.30 239.00 L369.30 240.00 L370.00 245.90 L370.80 234.20 L371.50 228.90 L372.40 232.80 L373.30 236.20 L374.20 239.50 L375.00 242.00 L375.70 234.70 L376.60 233.20 L377.50 235.20 L378.50 243.40 L379.30 247.80 L380.60 248.80 L382.50 249.70 L384.00 250.00 L384.00 250.30" fill="#A3052E"/>
<rect x="426.9" y="225.1" width="25.40" height="1.9" fill="#DB8A16"/>
<rect x="426.9" y="249.3" width="25.40" height="1.6" fill="#A3052E"/>
<path d="M430.70 225.50 L430.70 225.00 L430.70 222.10 L434.80 222.10 L434.80 225.00 L441.20 225.00 L441.20 221.80 L441.70 221.80 L441.70 218.20 L443.90 218.20 L443.90 221.80 L444.80 221.80 L444.80 225.00 L444.80 225.50" fill="#DB8A16"/>
<path d="M427.80 250.30 L427.80 250.00 L429.50 247.30 L431.20 242.90 L432.70 244.80 L434.60 245.80 L436.50 247.30 L438.00 249.20 L440.00 250.00 L441.80 248.20 L443.50 250.00 L445.20 247.30 L446.60 244.40 L448.00 243.70 L449.10 245.80 L450.20 250.00 L450.20 250.30" fill="#A3052E"/>
<rect x="67.7" y="203.6" width="14.70" height="47.60" fill="none" stroke="#000" stroke-width="1.3"/>
<line x1="67.7" y1="227.6" x2="82.4" y2="227.6" stroke="#000" stroke-width="1.2"/>
<rect x="151.8" y="203.6" width="50.40" height="47.60" fill="none" stroke="#000" stroke-width="1.3"/>
<line x1="151.8" y1="227.6" x2="202.2" y2="227.6" stroke="#000" stroke-width="1.2"/>
<rect x="234.3" y="203.6" width="17.80" height="47.60" fill="none" stroke="#000" stroke-width="1.3"/>
<line x1="234.3" y1="227.6" x2="252.1" y2="227.6" stroke="#000" stroke-width="1.2"/>
<rect x="272.3" y="203.6" width="24.20" height="47.60" fill="none" stroke="#000" stroke-width="1.3"/>
<line x1="272.3" y1="227.6" x2="296.5" y2="227.6" stroke="#000" stroke-width="1.2"/>
<rect x="314.3" y="203.6" width="25.80" height="47.60" fill="none" stroke="#000" stroke-width="1.3"/>
<line x1="314.3" y1="227.6" x2="340.1" y2="227.6" stroke="#000" stroke-width="1.2"/>
<rect x="359.5" y="203.6" width="25.90" height="47.60" fill="none" stroke="#000" stroke-width="1.3"/>
<line x1="359.5" y1="227.6" x2="385.4" y2="227.6" stroke="#000" stroke-width="1.2"/>
<rect x="426.9" y="203.6" width="25.40" height="47.60" fill="none" stroke="#000" stroke-width="1.3"/>
<line x1="426.9" y1="227.6" x2="452.3" y2="227.6" stroke="#000" stroke-width="1.2"/>
<text x="63.67" y="263" font-family="Liberation Sans, sans-serif" font-size="10" font-style="italic" font-weight="normal" fill="#111" stroke="#111" stroke-width="0.22" textLength="22.64" lengthAdjust="spacingAndGlyphs" text-rendering="geometricPrecision">nprl3</text>
<text x="57.57" y="275" font-family="Liberation Sans, sans-serif" font-size="10" font-style="normal" font-weight="normal" fill="#111" stroke="#111" stroke-width="0.22" textLength="33.95" lengthAdjust="spacingAndGlyphs" text-rendering="geometricPrecision">intron 7</text>
<text x="168.82" y="263" font-family="Liberation Sans, sans-serif" font-size="10" font-style="italic" font-weight="normal" fill="#111" stroke="#111" stroke-width="0.22" textLength="16.70" lengthAdjust="spacingAndGlyphs" text-rendering="geometricPrecision">hb1</text>
<text x="235.60" y="263" font-family="Liberation Sans, sans-serif" font-size="10" font-style="italic" font-weight="normal" fill="#111" stroke="#111" stroke-width="0.22" textLength="15.94" lengthAdjust="spacingAndGlyphs" text-rendering="geometricPrecision">hb2</text>
<text x="276.63" y="263" font-family="Liberation Sans, sans-serif" font-size="10" font-style="italic" font-weight="normal" fill="#111" stroke="#111" stroke-width="0.22" textLength="16.51" lengthAdjust="spacingAndGlyphs" text-rendering="geometricPrecision">hb3</text>
<text x="318.90" y="263" font-family="Liberation Sans, sans-serif" font-size="10" font-style="italic" font-weight="normal" fill="#111" stroke="#111" stroke-width="0.22" textLength="16.86" lengthAdjust="spacingAndGlyphs" text-rendering="geometricPrecision">hb4</text>
<text x="364.43" y="263" font-family="Liberation Sans, sans-serif" font-size="10" font-style="italic" font-weight="normal" fill="#111" stroke="#111" stroke-width="0.22" textLength="16.76" lengthAdjust="spacingAndGlyphs" text-rendering="geometricPrecision">hb5</text>
<text x="431.94" y="263" font-family="Liberation Sans, sans-serif" font-size="10" font-style="italic" font-weight="normal" fill="#111" stroke="#111" stroke-width="0.22" textLength="16.72" lengthAdjust="spacingAndGlyphs" text-rendering="geometricPrecision">hb6</text>
<text x="241.17" y="278" font-family="Liberation Sans, sans-serif" font-size="10.4" font-style="normal" font-weight="normal" fill="#111" stroke="#111" stroke-width="0.22" textLength="67.58" lengthAdjust="spacingAndGlyphs" text-rendering="geometricPrecision">Promoter areas</text>
<rect x="467.8" y="214.1" width="9.1" height="9.3" fill="#DB8A16"/>
<rect x="467.8" y="231.4" width="9.1" height="9.4" fill="#A3052E"/>
<text x="480.61" y="222" font-family="Liberation Sans, sans-serif" font-size="10.4" font-style="normal" font-weight="normal" fill="#111" stroke="#111" stroke-width="0.22" textLength="22.23" lengthAdjust="spacingAndGlyphs" text-rendering="geometricPrecision">larval</text>
<text x="480.82" y="239" font-family="Liberation Sans, sans-serif" font-size="9.9" font-style="normal" font-weight="normal" fill="#111" stroke="#111" stroke-width="0.22" textLength="20.87" lengthAdjust="spacingAndGlyphs" text-rendering="geometricPrecision">adult</text>
</svg>
</body></html>
